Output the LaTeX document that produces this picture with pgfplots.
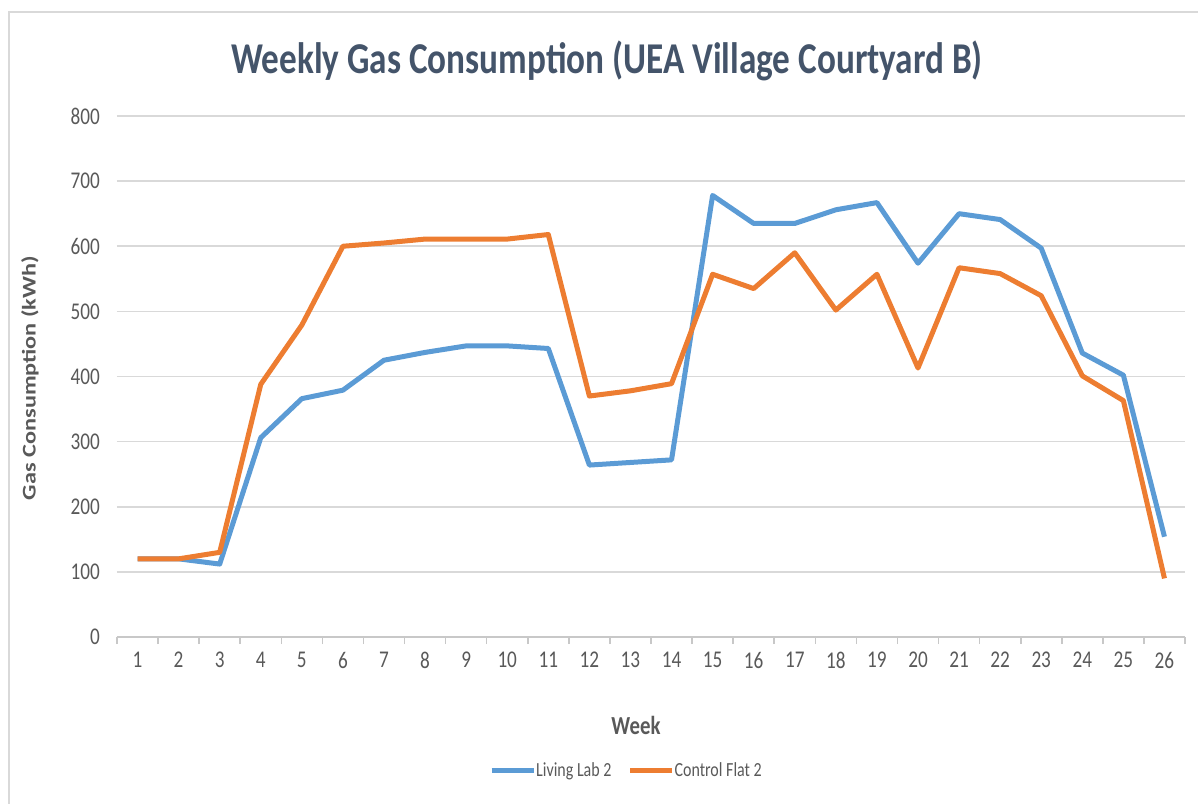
\documentclass[border=0pt]{standalone}
\usepackage{pgfplots}
\pgfplotsset{compat=1.18}
\usepackage{fontspec}
\setmainfont{Carlito}[FakeStretch=0.8]
\newfontfamily\rotfont{Carlito}[FakeStretch=1.25]
\definecolor{cblue}{HTML}{5B9BD5}
\definecolor{corange}{HTML}{ED7D31}
\definecolor{tickc}{HTML}{595959}
\definecolor{gridc}{HTML}{D9D9D9}
\definecolor{axisc}{HTML}{C8C8C8}
\definecolor{titlec}{HTML}{44546A}
\begin{document}
\begin{tikzpicture}
\path[use as bounding box] (-58.5pt,-83pt) rectangle (540.5pt,318.5pt);
\draw[gridc, line width=1.2pt] (-54pt,-95pt) -- (-54pt,312.5pt) -- (560pt,312.5pt);
\begin{axis}[
  at={(0,0)}, anchor=south west, scale only axis,
  width=534pt, height=260.5pt,
  xmin=0.5, xmax=26.5, ymin=0, ymax=800,
  xtick={1,...,26}, ytick={0,100,...,800},
  major tick length=0pt,
  axis x line*=bottom, axis y line*=left,
  y axis line style={draw=none},
  x axis line style={axisc, line width=1pt},
  ymajorgrids, grid style={gridc, line width=0.8pt},
  extra x ticks={0.5,1.5,...,26.5}, extra x tick labels={},
  extra x tick style={major tick length=3.5pt, tick align=outside, tick style={axisc, line width=0.8pt}},
  /pgf/number format/assume math mode=true,
  ticklabel style={font=\fontsize{12}{14}\selectfont, text=tickc},
  xticklabel style={yshift=-4pt},
  yticklabel style={xshift=-5pt},
  line join=round,
  clip=false,
  legend columns=2,
  legend style={at={(0.478,-0.257)}, anchor=center, draw=none, fill=none,
    font=\fontsize{10}{12}\selectfont, text=tickc,
    /tikz/every odd column/.append style={column sep=-2pt},
    /tikz/every even column/.append style={column sep=6pt}},
  legend image code/.code={\draw[#1, line width=2.5pt] (0pt,0pt) -- (21pt,0pt);},
]
\addplot[cblue, line width=2.5pt] coordinates {
(1,120)(2,120)(3,112)(4,306)(5,366)(6,379)(7,425)(8,437)(9,447)(10,447)(11,443)(12,264)(13,268)(14,272)(15,678)(16,635)(17,635)(18,656)(19,667)(20,574)(21,650)(22,641)(23,597)(24,436)(25,402)(26,154)};
\addlegendentry{Living Lab 2}
\addplot[corange, line width=2.5pt] coordinates {
(1,120)(2,120)(3,130)(4,388)(5,479)(6,600)(7,605)(8,611)(9,611)(10,611)(11,618)(12,370)(13,378)(14,389)(15,557)(16,535)(17,590)(18,502)(19,557)(20,413)(21,567)(22,558)(23,524)(24,401)(25,363)(26,90)};
\addlegendentry{Control Flat 2}
\end{axis}
\node[text=titlec, font=\fontsize{22}{26}\selectfont\bfseries] at (245pt,288pt) {Weekly Gas Consumption (UEA Village Courtyard B)};
\node[text=tickc, font=\fontsize{13}{15}\selectfont\bfseries] at (259.5pt,-44pt) {Week};
\node[text=tickc, font=\rotfont\fontsize{9.7}{12}\selectfont\bfseries, rotate=90] at (-43.5pt,129.5pt) {Gas Consumption (kWh)};
\end{tikzpicture}
\end{document}
